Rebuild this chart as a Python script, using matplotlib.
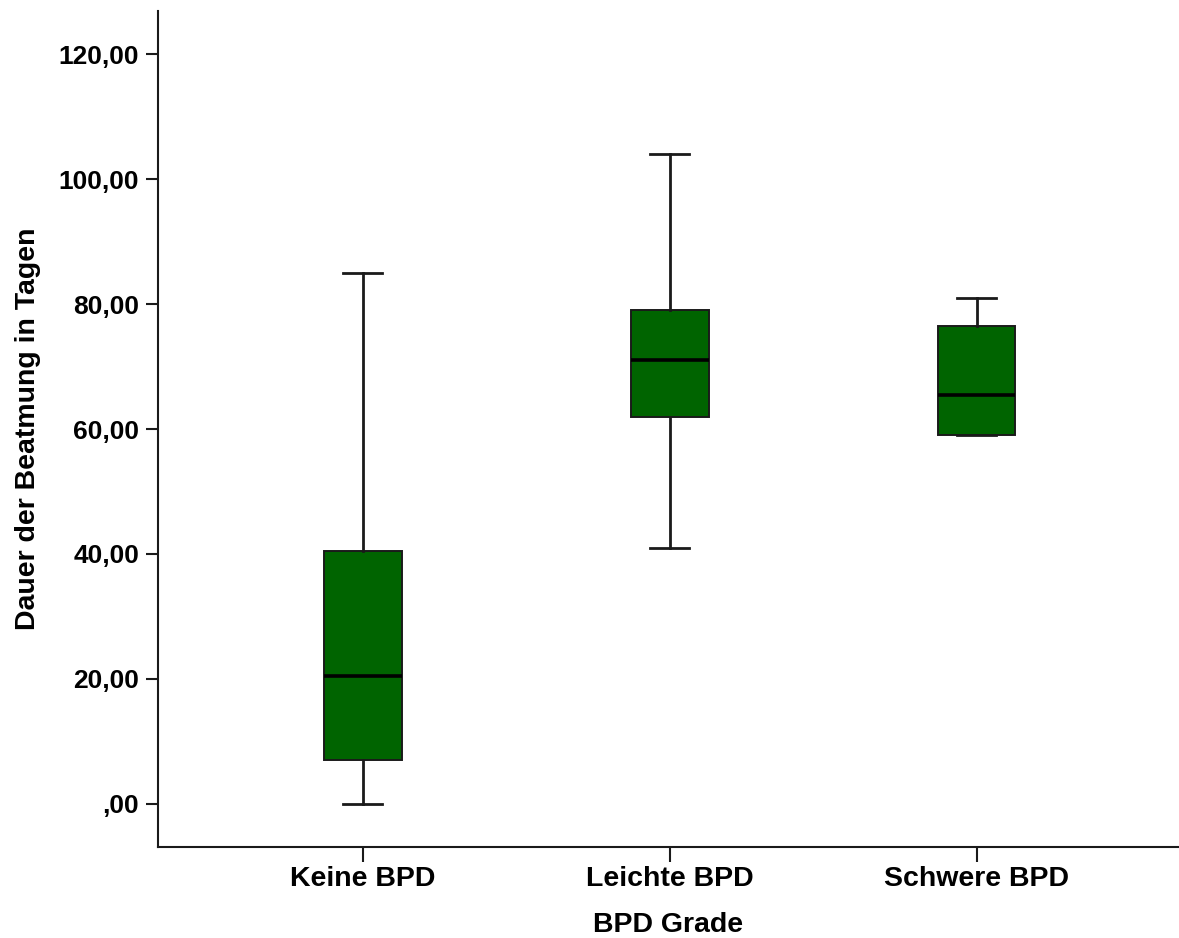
import matplotlib
matplotlib.use("Agg")
import matplotlib.pyplot as plt

categories = ["Keine BPD", "Leichte BPD", "Schwere BPD"]
whisker_low = [0.0, 41.0, 59.0]
q1 = [7.0, 62.0, 59.0]
median = [20.5, 71.0, 65.5]
q3 = [40.5, 79.0, 76.5]
whisker_high = [85.0, 104.0, 81.0]
yticks = [0, 20, 40, 60, 80, 100, 120]
ytick_labels = [",00", "20,00", "40,00", "60,00", "80,00", "100,00", "120,00"]

plt.rcParams['font.family'] = ['Liberation Sans', 'DejaVu Sans']

fig = plt.figure(figsize=(11.79, 9.38), dpi=100)
ax = fig.add_axes([158/1179, 1 - 847/938, 1 - 158/1179, (847 - 11)/938])

stats = []
for i, c in enumerate(categories):
    stats.append(dict(label=c, whislo=whisker_low[i], q1=q1[i], med=median[i],
                      q3=q3[i], whishi=whisker_high[i], fliers=[]))

ax.bxp(stats, positions=[1, 2, 3], widths=0.254, patch_artist=True,
       showfliers=False,
       boxprops=dict(facecolor="#006400", edgecolor="#1a1a1a", linewidth=1.4),
       medianprops=dict(color="black", linewidth=2.6),
       whiskerprops=dict(color="#1a1a1a", linewidth=2.0),
       capprops=dict(color="#1a1a1a", linewidth=2.0), capwidths=0.127)

ax.set_xlim(0.332, 3.66)
ax.set_ylim(-6.9, 126.9)
ax.set_yticks(yticks)
ax.set_yticklabels(ytick_labels)
ax.set_xticks([1, 2, 3])
ax.set_xticklabels(categories)

for s in ["top", "right"]:
    ax.spines[s].set_visible(False)
for s in ["left", "bottom"]:
    ax.spines[s].set_linewidth(1.5)
    ax.spines[s].set_color("#1a1a1a")

ax.tick_params(axis="y", length=8.6, width=1.5, color="#1a1a1a", labelsize=19, pad=5)
ax.tick_params(axis="x", length=10.8, width=1.5, color="#1a1a1a", labelsize=20.5, pad=3)
for lbl in ax.get_xticklabels() + ax.get_yticklabels():
    lbl.set_fontweight("bold")

ax.set_xlabel("BPD Grade", fontsize=20.5, fontweight="bold", labelpad=14)
ax.set_ylabel("Dauer der Beatmung in Tagen", fontsize=20.5, fontweight="bold", labelpad=13)

fig.savefig("out.png", dpi=100)
